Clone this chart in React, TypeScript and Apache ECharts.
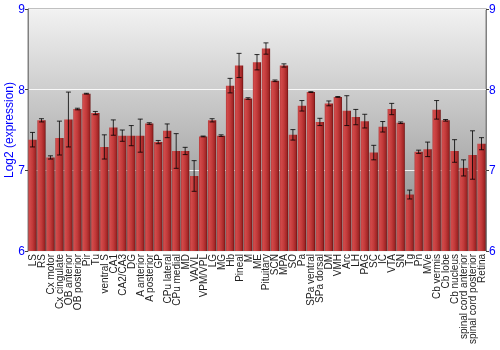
import React, { useEffect, useRef } from "react";
import * as echarts from "echarts";

const categories = [
  "LS", "RS", "Cx motor", "Cx cingulate", "OB anterior", "OB posterior", "Pir", "Tu",
  "ventral S", "CA1", "CA2/CA3", "DG", "A anterior", "A posterior", "GP", "CPu lateral",
  "CPu medial", "MD", "VA/VL", "VPM/VPL", "LG", "MG", "Hb", "Pineal", "M", "ME",
  "Pituitary", "SCN", "MPA", "SO", "Pa", "SPa ventral", "SPa dorsal", "DM", "VMH", "Arc",
  "LH", "PAG", "SC", "IC", "VTA", "SN", "Tg", "Pn", "MVe", "Cb vermis", "Cb lobe",
  "Cb nucleus", "spinal cord anterior", "spinal cord posterior", "Retina",
];

const values = [
  7.38, 7.62, 7.16, 7.40, 7.63, 7.76, 7.95, 7.71,
  7.29, 7.53, 7.43, 7.43, 7.43, 7.58, 7.35, 7.49,
  7.24, 7.24, 6.93, 7.42, 7.62, 7.43, 8.05, 8.30, 7.89, 8.34,
  8.51, 8.11, 8.30, 7.44, 7.80, 7.97, 7.60, 7.83, 7.91, 7.74,
  7.66, 7.61, 7.22, 7.54, 7.76, 7.59, 6.70, 7.23, 7.26, 7.75, 7.62,
  7.24, 7.03, 7.19, 7.33,
];

const errors = [
  0.09, 0.02, 0.02, 0.21, 0.34, 0.01, 0.005, 0.02,
  0.15, 0.095, 0.07, 0.125, 0.205, 0.01, 0.02, 0.085,
  0.215, 0.045, 0.19, 0.005, 0.02, 0.01, 0.09, 0.15, 0.01, 0.095,
  0.07, 0.01, 0.02, 0.065, 0.065, 0.005, 0.045, 0.03, 0.005, 0.185,
  0.095, 0.085, 0.09, 0.065, 0.07, 0.01, 0.055, 0.02, 0.09, 0.115, 0.01,
  0.14, 0.10, 0.30, 0.075,
];

const yTicks = { min: 6, max: 9, interval: 1 };
const yAxisTitle = "Log2 (expression)";

export default function App() {
  const ref = useRef<HTMLDivElement>(null);

  useEffect(() => {
    if (!ref.current) return;
    const chart = echarts.init(ref.current, null, { renderer: "svg" });
    const font = "'Liberation Sans', Arial, sans-serif";
    const errData = values.map((v, i) => [i, v - errors[i], v + errors[i]]);

    const yAxisBase = {
      type: "value",
      min: yTicks.min,
      max: yTicks.max,
      interval: yTicks.interval,
      axisLine: { show: true, lineStyle: { color: "#808080", width: 1 } },
      axisTick: { show: true, length: 3, lineStyle: { color: "#404040" } },
      axisLabel: { color: "#0000ff", fontSize: 12, fontFamily: font, margin: 3 },
    };

    chart.setOption({
      animation: false,
      graphic: [
        {
          type: "text",
          x: 9,
          y: 130,
          rotation: Math.PI / 2,
          style: {
            text: yAxisTitle,
            fill: "#0000ff",
            fontSize: 12,
            fontFamily: font,
            align: "center",
            verticalAlign: "middle",
          },
        },
      ],
      grid: {
        left: 28,
        right: 14,
        top: 9,
        bottom: 99,
        show: true,
        borderColor: "#808080",
        borderWidth: 1,
        backgroundColor: new echarts.graphic.LinearGradient(0, 0, 0, 1, [
          { offset: 0, color: "#f2f2f2" },
          { offset: 1, color: "#858585" },
        ]),
      },
      xAxis: {
        type: "category",
        data: categories,
        axisLine: { show: false },
        axisTick: { show: false },
        axisLabel: {
          rotate: 90,
          interval: 0,
          color: "#222",
          fontSize: 10,
          fontFamily: font,
          margin: 3,
        },
      },
      yAxis: [
        {
          ...yAxisBase,
          position: "left",
          splitLine: {
            show: true,
            lineStyle: { color: "rgba(255,255,255,0.85)", width: 1 },
          },
        },
        {
          ...yAxisBase,
          position: "right",
          splitLine: { show: false },
        },
      ],
      series: [
        {
          type: "bar",
          data: values,
          barCategoryGap: "8%",
          itemStyle: {
            color: new echarts.graphic.LinearGradient(0, 0, 1, 0, [
              { offset: 0, color: "#b33a3a" },
              { offset: 0.15, color: "#d24a4a" },
              { offset: 0.5, color: "#c23a3a" },
              { offset: 0.85, color: "#a02525" },
              { offset: 1, color: "#6a0f0f" },
            ]),
          },
        },
        {
          type: "custom",
          data: errData,
          encode: { x: 0, y: [1, 2] },
          z: 5,
          renderItem: (params: any, api: any) => {
            const i = api.value(0);
            const lo = api.coord([i, api.value(1)]);
            const hi = api.coord([i, api.value(2)]);
            const hw = 2.5;
            const style = { stroke: "rgba(0,0,0,0.8)", lineWidth: 1 };
            return {
              type: "group",
              children: [
                { type: "line", shape: { x1: hi[0], y1: hi[1], x2: lo[0], y2: lo[1] }, style },
                { type: "line", shape: { x1: hi[0] - hw, y1: hi[1], x2: hi[0] + hw, y2: hi[1] }, style },
                { type: "line", shape: { x1: lo[0] - hw, y1: lo[1], x2: lo[0] + hw, y2: lo[1] }, style },
              ],
            };
          },
        },
      ],
    });

    return () => chart.dispose();
  }, []);

  return (
    <div
      ref={ref}
      style={{ position: "fixed", left: 0, top: 0, width: 500, height: 350 }}
    />
  );
}
